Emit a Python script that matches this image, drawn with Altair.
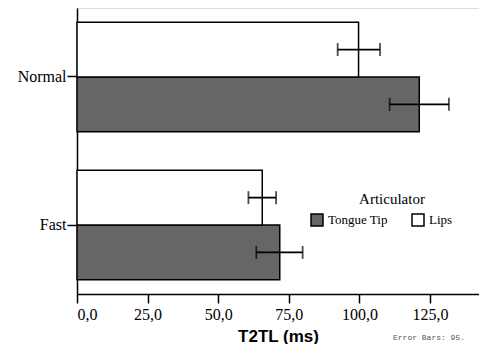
import altair as alt
import pandas as pd

conditions = ["Normal", "Normal", "Fast", "Fast"]
articulators = ["Tongue Tip", "Lips", "Tongue Tip", "Lips"]
means = [121.2, 99.7, 71.8, 65.6]
lows = [110.7, 92.3, 63.5, 60.7]
highs = [131.7, 107.3, 79.9, 70.5]

cond_order = ["Normal", "Fast"]
art_order = ["Tongue Tip", "Lips"]
offset_order = ["Lips", "Tongue Tip"]
fills = ["#666666", "#ffffff"]
x_ticks = [0, 25, 50, 75, 100, 125]

df = pd.DataFrame({
    "Condition": conditions,
    "Articulator": articulators,
    "mean": means,
    "low": lows,
    "high": highs,
})

W, H = 402, 286
SERIF = "Liberation Serif"

yenc = alt.Y(
    "Condition:N",
    sort=cond_order,
    scale=alt.Scale(paddingInner=0.26, paddingOuter=0.096),
    axis=alt.Axis(
        title=None, labelFont=SERIF, labelFontSize=16, labelColor="black",
        labelPadding=1, tickSize=10, tickColor="black", domainColor="black",
        tickWidth=1.5, domainWidth=1.5,
    ),
)
yoff = alt.YOffset("Articulator:N", sort=offset_order, scale=alt.Scale(paddingInner=0, paddingOuter=0))

xscale = alt.Scale(domain=[0, 142.35], nice=False, zero=True)
xaxis = alt.Axis(
    title="T2TL (ms)", titleFont="Liberation Sans", titleFontSize=17, titleFontWeight="bold",
    titleColor="black", titlePadding=6,
    values=x_ticks, labelExpr="replace(format(datum.value, '.1f'), '.', ',')",
    labelFont=SERIF, labelFontSize=16, labelColor="black", labelPadding=3,
    tickSize=9, tickColor="black", tickWidth=1.5, domainColor="black", domainWidth=1.5,
    grid=False,
)

base = alt.Chart(df)

bars = base.mark_bar(stroke="black", strokeWidth=1.5).encode(
    x=alt.X("mean:Q", scale=xscale, axis=xaxis),
    y=yenc,
    yOffset=yoff,
    fill=alt.Fill(
        "Articulator:N",
        scale=alt.Scale(domain=art_order, range=fills),
        legend=alt.Legend(
            title=None, orient="none", legendX=233, legendY=205,
            direction="horizontal", labelFont=SERIF, labelFontSize=13, labelColor="black",
            symbolType="square", symbolSize=144, symbolStrokeColor="black",
            symbolStrokeWidth=1.5, columnPadding=21, labelOffset=4,
        ),
    ),
)

ysort = alt.Y("Condition:N", sort=cond_order)
yosort = alt.YOffset("Articulator:N", sort=offset_order)

err = base.mark_rule(color="black", strokeWidth=1.8).encode(
    x="low:Q", x2="high:Q", y=ysort, yOffset=yosort
)
cap_lo = base.mark_tick(color="black", thickness=1.8, size=13, orient="vertical").encode(
    x="low:Q", y=ysort, yOffset=yosort
)
cap_hi = base.mark_tick(color="black", thickness=1.8, size=13, orient="vertical").encode(
    x="high:Q", y=ysort, yOffset=yosort
)

top_line = alt.Chart(pd.DataFrame({"a": [0]})).mark_rule(color="black", strokeWidth=1.5).encode(
    x=alt.value(0), x2=alt.value(W), y=alt.value(-1)
)

legend_title = alt.Chart(pd.DataFrame({"t": ["Articulator"]})).mark_text(
    font=SERIF, fontSize=15, color="black", align="center", baseline="middle"
).encode(text="t:N", x=alt.value(315), y=alt.value(191))

note = alt.Chart(pd.DataFrame({"t": ["Error Bars: 95."]})).mark_text(
    font="Liberation Mono", fontSize=8, color="#555555", align="left", baseline="middle"
).encode(text="t:N", x=alt.value(316), y=alt.value(330))

chart = alt.layer(bars, err, cap_lo, cap_hi, top_line, legend_title, note).properties(
    width=W, height=H,
    autosize=alt.AutoSizeParams(type="none"),
    padding={"left": 69, "top": 0, "right": 0, "bottom": 50},
).configure_view(stroke=None).configure(background="white")

chart.save("out.html", embed_options={"renderer": "svg", "actions": False})
